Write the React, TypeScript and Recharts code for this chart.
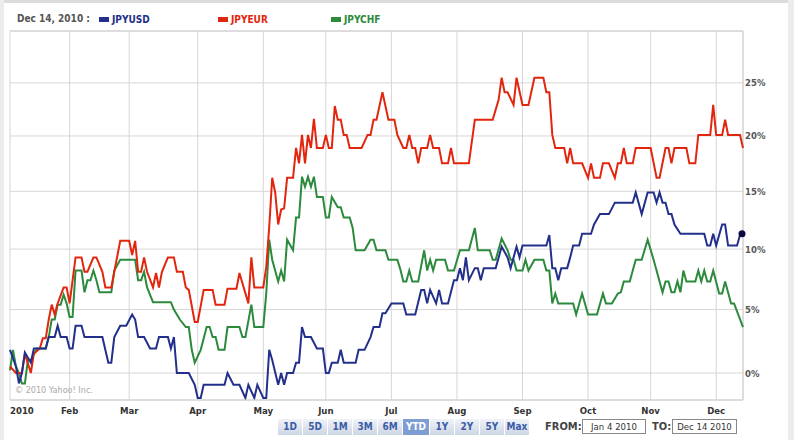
import React from 'react';
import { LineChart, Line, XAxis, YAxis, CartesianGrid, ReferenceLine } from 'recharts';

// trading-day index (0 = Jan 4) and % change since Jan 4
const usdSeries: [number, number][] = [
  [0, 1.8], [2, 0.5], [3, -0.8], [4, 0], [5, 1.6], [7, 0.8], [8, 1.9], [12, 1.9], [13, 2.8], [15, 2.8],
  [16, 3.7], [17, 2.8], [19, 2.8], [20, 1.9], [21, 1.9], [22, 3.7], [24, 3.7], [25, 2.8], [31, 2.8], [33, 0.8],
  [34, 0.8], [35, 2.8], [37, 3.7], [39, 3.7], [41, 4.6], [42, 4.2], [43, 2.8], [45, 2.8], [47, 1.9], [49, 1.9],
  [50, 2.8], [53, 2.8], [54, 1.9], [55, 2.8], [56, 0], [60, 0], [62, -0.9], [63, -1.9], [64, -1.9], [65, -0.9],
  [72, -0.9], [73, 0], [75, -0.9], [77, -0.9], [79, -1.9], [80, -0.9], [82, -1.9], [83, -0.9], [85, -1.9], [86, -1.9],
  [87, 1.8], [88, 1.0], [90, -0.9], [91, 0], [92, -0.9], [93, 0], [95, 0], [96, 0.8], [97, 0.8], [98, 3.6],
  [99, 2.8], [101, 2.8], [103, 1.9], [105, 1.9], [106, 0], [107, 0], [108, 0.8], [110, 0.8], [111, 1.8], [112, 0.8],
  [116, 0.8], [117, 1.8], [119, 1.8], [121, 2.8], [122, 3.6], [124, 3.6], [125, 4.7], [126, 4.7], [128, 5.5], [132, 5.5],
  [133, 4.6], [136, 4.6], [138, 6.6], [139, 6.6], [140, 5.5], [141, 6.6], [143, 5.5], [144, 6.6], [145, 5.5], [147, 5.5],
  [149, 7.4], [150, 7.4], [151, 8.4], [152, 7.4], [153, 9.3], [154, 7.4], [156, 8.4], [157, 8.4], [158, 7.4], [159, 8.4],
  [163, 8.4], [165, 10.2], [167, 9.3], [168, 8.4], [170, 10.2], [171, 9.3], [172, 10.3], [180, 10.3], [181, 11.2], [182, 8.4],
  [183, 8.4], [184, 7.4], [185, 8.4], [187, 8.4], [188, 9.3], [189, 10.3], [191, 10.3], [192, 11.3], [195, 11.3], [196, 12.1],
  [198, 13.0], [201, 13.0], [203, 14.0], [209, 14.0], [210, 14.9], [212, 13.0], [214, 14.9], [216, 14.9], [217, 14.0], [218, 14.9],
  [219, 14.0], [220, 14.0], [221, 13.0], [222, 13.0], [223, 12.1], [225, 11.3], [233, 11.3], [234, 10.3], [235, 10.3], [236, 11.3],
  [237, 10.3], [239, 12.1], [240, 12.1], [241, 10.3], [244, 10.3], [245, 11.2], [246, 11.3],
];

const eurSeries: [number, number][] = [
  [0, 0.5], [2, 0], [4, 0], [5, 1.5], [7, 0], [8, 1.5], [10, 1.9], [11, 2.7], [12, 2.7], [13, 4.2],
  [14, 5.4], [15, 4.6], [16, 5.5], [18, 6.8], [19, 6.8], [20, 5.5], [22, 9.3], [24, 9.3], [25, 8.1], [26, 8.1],
  [28, 9.3], [29, 9.3], [31, 8.1], [32, 6.8], [34, 6.8], [35, 8.1], [37, 10.7], [40, 10.7], [41, 9.5], [42, 10.7],
  [43, 8.1], [44, 8.1], [45, 9.3], [46, 8.1], [48, 6.8], [49, 8.0], [50, 6.8], [51, 8.1], [53, 9.3], [55, 9.3],
  [56, 8.1], [58, 8.1], [59, 6.8], [60, 6.6], [62, 4.0], [63, 4.0], [65, 6.6], [68, 6.6], [69, 5.4], [72, 5.4],
  [73, 6.7], [76, 6.7], [77, 8.0], [80, 5.5], [81, 9.3], [82, 6.8], [85, 6.8], [86, 8.5], [87, 11.9], [88, 16.2],
  [89, 14.9], [90, 12.1], [91, 13.4], [92, 13.5], [93, 16.2], [95, 16.2], [96, 18.9], [97, 17.5], [98, 20.1], [99, 17.5],
  [100, 20.1], [101, 18.9], [102, 21.6], [103, 18.9], [105, 18.9], [106, 20.1], [107, 18.9], [108, 18.9], [109, 22.8], [110, 21.5],
  [111, 21.5], [112, 20.1], [113, 20.1], [114, 18.9], [118, 18.9], [120, 20.1], [121, 20.1], [122, 21.5], [123, 21.5], [125, 24.1],
  [127, 21.5], [129, 21.5], [130, 20.1], [132, 18.9], [133, 18.9], [134, 20.1], [135, 18.9], [136, 18.9], [137, 17.5], [138, 18.9],
  [140, 18.9], [141, 20.1], [142, 18.9], [144, 18.9], [145, 17.5], [147, 17.5], [148, 18.9], [149, 17.5], [154, 17.5], [156, 21.5],
  [162, 21.5], [164, 23.4], [165, 25.5], [166, 24.1], [167, 24.1], [169, 22.9], [170, 25.5], [172, 22.9], [174, 22.9], [176, 25.5],
  [179, 25.5], [180, 24.1], [181, 24.1], [182, 20.1], [183, 18.9], [186, 18.9], [187, 17.5], [188, 18.9], [189, 17.5], [192, 17.5],
  [194, 16.2], [195, 17.5], [196, 16.2], [198, 16.2], [199, 17.5], [201, 17.5], [203, 16.2], [204, 17.5], [205, 17.5], [206, 18.9],
  [207, 17.5], [209, 17.5], [210, 18.9], [215, 18.9], [217, 16.2], [218, 16.2], [220, 18.9], [221, 18.9], [222, 17.5], [223, 18.9],
  [227, 18.9], [228, 17.5], [230, 17.5], [231, 20.1], [235, 20.1], [236, 22.9], [237, 20.1], [239, 20.1], [240, 21.5], [241, 20.1],
  [245, 20.1], [246, 18.9],
];

const chfSeries: [number, number][] = [
  [0, 0.2], [1, 1.8], [2, 0.5], [3, 0], [4, -0.8], [5, -0.8], [6, 1.0], [7, 1.0], [9, 1.9], [12, 1.9],
  [13, 2.8], [14, 4.2], [15, 4.2], [16, 5.4], [17, 5.4], [18, 6.2], [19, 5.5], [20, 4.4], [21, 4.4], [22, 8.2],
  [24, 8.2], [25, 6.4], [26, 7.4], [27, 7.4], [28, 8.2], [29, 7.4], [30, 6.4], [34, 6.4], [35, 8.2], [37, 9.1],
  [42, 9.1], [43, 7.4], [44, 7.4], [45, 8.1], [46, 6.8], [48, 5.6], [54, 5.6], [55, 5.0], [57, 4.2], [59, 3.6],
  [60, 3.6], [61, 1.8], [62, 0.8], [64, 1.8], [66, 3.6], [67, 3.6], [68, 2.8], [69, 2.8], [70, 1.8], [72, 1.8],
  [73, 3.6], [77, 3.6], [78, 2.8], [79, 2.8], [81, 5.4], [82, 3.6], [85, 3.6], [86, 6.3], [87, 10.8], [88, 9.1],
  [90, 7.3], [91, 8.2], [92, 7.3], [93, 10.8], [95, 9.9], [96, 12.7], [97, 12.7], [98, 16.3], [99, 15.4], [100, 16.3],
  [101, 15.4], [102, 16.3], [103, 14.5], [105, 14.5], [106, 12.7], [107, 12.7], [108, 14.5], [110, 13.6], [111, 13.6], [112, 12.7],
  [114, 12.7], [115, 11.8], [116, 9.9], [119, 9.9], [121, 10.8], [122, 10.8], [123, 9.9], [126, 9.9], [127, 9.1], [130, 9.1],
  [131, 8.3], [132, 7.3], [133, 7.3], [134, 8.2], [135, 7.3], [137, 7.3], [139, 9.9], [140, 8.2], [141, 9.1], [142, 8.2],
  [143, 9.1], [146, 9.1], [147, 8.2], [149, 8.2], [151, 9.9], [154, 9.9], [156, 11.8], [157, 9.9], [161, 9.9], [162, 9.1],
  [163, 9.1], [165, 10.9], [167, 9.9], [168, 9.1], [169, 9.1], [170, 8.2], [172, 8.2], [173, 9.1], [174, 8.2], [176, 9.1],
  [179, 9.1], [180, 8.2], [181, 8.2], [182, 5.5], [183, 6.3], [184, 5.5], [189, 5.5], [190, 4.6], [192, 6.3], [194, 4.6],
  [197, 4.6], [199, 6.3], [200, 5.5], [202, 5.5], [204, 6.3], [205, 6.4], [206, 7.3], [208, 7.3], [209, 8.2], [210, 9.1],
  [212, 9.1], [214, 10.8], [216, 9.1], [219, 6.4], [220, 7.3], [221, 7.3], [222, 6.4], [223, 6.4], [224, 7.3], [225, 6.4],
  [226, 8.2], [227, 7.3], [230, 7.3], [231, 8.2], [232, 7.3], [233, 8.2], [234, 7.3], [235, 7.3], [236, 8.2], [238, 6.3],
  [239, 6.3], [240, 7.3], [242, 5.5], [243, 5.5], [246, 3.6],
];

const monthTicks = [0, 20, 40, 63, 85, 106, 128, 150, 172, 194, 215, 237];
const monthLabels = ['2010', 'Feb', 'Mar', 'Apr', 'May', 'Jun', 'Jul', 'Aug', 'Sep', 'Oct', 'Nov', 'Dec'];
const pctTicks = [0, 5, 10, 15, 20, 25];
const rangeButtons = ['1D', '5D', '1M', '3M', '6M', 'YTD', '1Y', '2Y', '5Y', 'Max'];
const lastDay = 246;

const USD = '#22308c';
const EUR = '#e2260e';
const CHF = '#2b8a3c';

const FONT = '"DejaVu Sans Condensed", "DejaVu Sans", Verdana, sans-serif';

const toPoints = (s: [number, number][]) => s.map(([day, pct]) => ({ day, y: 1 + pct / 100 }));

const MonthTick = (props: any) => {
  const { x, y, payload } = props;
  const i = monthTicks.indexOf(payload.value);
  return (
    <text x={x} y={y + 12} textAnchor={i === 0 ? 'start' : 'middle'} fill="#333" fontSize={9.5}
      fontWeight="bold" fontFamily={FONT} style={{ fontStretch: 'condensed' }}>
      {monthLabels[i]}
    </text>
  );
};

const PctTick = (props: any) => {
  const { x, y, payload } = props;
  return (
    <text x={x} y={y + 3.5} textAnchor="start" fill="#555" fontSize={9.5} fontWeight="bold"
      fontFamily={FONT} style={{ fontStretch: 'condensed' }}>
      {Math.round((payload.value - 1) * 100)}%
    </text>
  );
};

const LegendItem = ({ left, color, label }: { left: number; color: string; label: string }) => (
  <div style={{ position: 'absolute', left, top: 14, display: 'flex', alignItems: 'center' }}>
    <div style={{ width: 10, height: 5, background: color, marginRight: 3 }} />
    <span style={{ color, fontWeight: 'bold', fontSize: 10, fontFamily: FONT, fontStretch: 'condensed' }}>{label}</span>
  </div>
);

export default function App() {
  const endDot = (props: any) => {
    const { cx, cy, index } = props;
    if (index !== usdSeries.length - 1) return <g key={`d${index}`} />;
    return <circle key="end" cx={cx - 1} cy={cy} r={3.5} fill="#0a0a40" />;
  };

  return (
    <div style={{ position: 'absolute', left: 0, top: 0, width: 794, height: 440, background: '#fff', overflow: 'hidden' }}>
      <div style={{ position: 'absolute', left: 0, top: 0, width: 794, height: 3, background: '#dcdcdc' }} />
      <div style={{ position: 'absolute', left: 0, top: 0, width: 4, height: 440, background: '#ececec' }} />
      <div style={{ position: 'absolute', left: 788, top: 0, width: 6, height: 440, background: '#ececec' }} />

      <div style={{ position: 'absolute', left: 0, top: 0 }}>
        <LineChart width={794} height={440} margin={{ top: 31, right: 6, bottom: 0, left: 10 }}>
          <CartesianGrid stroke="#d6d6d6" strokeWidth={1} />
          <XAxis dataKey="day" type="number" domain={[0, lastDay]} ticks={monthTicks} height={40}
            tick={<MonthTick />} tickSize={0} tickLine={false} axisLine={{ stroke: '#cfcfcf' }}
            allowDuplicatedCategory={false} />
          <YAxis orientation="right" type="number" scale="log" domain={[0.97945, 1.3009]} allowDataOverflow
            ticks={pctTicks.map((p) => 1 + p / 100)} width={45} tickSize={0} tickMargin={2}
            tick={<PctTick />} axisLine={false} tickLine={false} />
          <ReferenceLine y={1.3009} stroke="#cfcfcf" ifOverflow="extendDomain" />
          <ReferenceLine x={lastDay} stroke="#cfcfcf" />
          <Line data={toPoints(chfSeries)} dataKey="y" stroke={CHF} strokeWidth={2} dot={false}
            type="linear" isAnimationActive={false} />
          <Line data={toPoints(eurSeries)} dataKey="y" stroke={EUR} strokeWidth={2} dot={false}
            type="linear" isAnimationActive={false} />
          <Line data={toPoints(usdSeries)} dataKey="y" stroke={USD} strokeWidth={2} dot={endDot}
            type="linear" isAnimationActive={false} />
        </LineChart>
      </div>

      <div style={{ position: 'absolute', left: 17, top: 13, color: '#555', fontWeight: 'bold', fontSize: 10,
        fontFamily: FONT, fontStretch: 'condensed' }}>Dec 14, 2010 :</div>
      <LegendItem left={99} color={USD} label="JPYUSD" />
      <LegendItem left={218} color={EUR} label="JPYEUR" />
      <LegendItem left={331} color={CHF} label="JPYCHF" />

      <div style={{ position: 'absolute', left: 15, top: 385, color: '#aaa', fontSize: 9, fontFamily: FONT,
        fontStretch: 'condensed' }}>© 2010 Yahoo! Inc.</div>

      <div style={{ position: 'absolute', left: 278, top: 419, display: 'flex', height: 16 }}>
        {rangeButtons.map((b) => (
          <div key={b} style={{
            width: b === 'YTD' ? 27 : 25, height: 16, boxSizing: 'border-box', textAlign: 'center', lineHeight: '16px',
            fontSize: 10, fontWeight: 'bold', fontFamily: FONT, fontStretch: 'condensed',
            color: b === 'YTD' ? '#fff' : '#3c5ca8',
            background: b === 'YTD' ? '#7d9dd3' : 'linear-gradient(#f0f3f8, #cdd6e4)',
            borderRight: '1px solid #fff',
          }}>{b}</div>
        ))}
      </div>

      <div style={{ position: 'absolute', left: 545, top: 420, color: '#444', fontSize: 11, fontWeight: 'bold',
        fontFamily: FONT, fontStretch: 'condensed' }}>FROM:</div>
      <div style={{ position: 'absolute', left: 582, top: 419, width: 64, height: 15, border: '1px solid #888',
        boxSizing: 'border-box', fontSize: 9.5, color: '#333', textAlign: 'center', lineHeight: '13px',
        fontFamily: FONT, fontStretch: 'condensed' }}>Jan 4 2010</div>
      <div style={{ position: 'absolute', left: 652, top: 420, color: '#444', fontSize: 11, fontWeight: 'bold',
        fontFamily: FONT, fontStretch: 'condensed' }}>TO:</div>
      <div style={{ position: 'absolute', left: 672, top: 419, width: 65, height: 15, border: '1px solid #888',
        boxSizing: 'border-box', fontSize: 9.5, color: '#333', textAlign: 'center', lineHeight: '13px',
        fontFamily: FONT, fontStretch: 'condensed' }}>Dec 14 2010</div>
    </div>
  );
}
